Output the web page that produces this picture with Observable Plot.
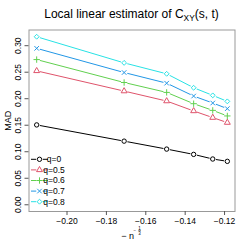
<!DOCTYPE html>
<html><head><meta charset="utf-8">
<script src="https://cdn.jsdelivr.net/npm/d3@7"></script>
<script src="https://cdn.jsdelivr.net/npm/@observablehq/plot@0.6"></script>
<style>body{margin:0;background:#fff} svg{font-family:"Liberation Sans",Arial,sans-serif}</style>
</head><body><div id="chart"></div>
<script>
const xValues = [-0.2154, -0.1710, -0.1494, -0.1357, -0.1260, -0.1186];
const seriesNames = ["q=0", "q=0.5", "q=0.6", "q=0.7", "q=0.8"];
const q0  = [0.1506, 0.1200, 0.1050, 0.0950, 0.0863, 0.0819];
const q05 = [0.2525, 0.2144, 0.1956, 0.1769, 0.1644, 0.1550];
const q06 = [0.2738, 0.2306, 0.2119, 0.1906, 0.1780, 0.1675];
const q07 = [0.2950, 0.2494, 0.2293, 0.2050, 0.1919, 0.1813];
const q08 = [0.3169, 0.2676, 0.2470, 0.2207, 0.2063, 0.1950];
const xTicks = [-0.20, -0.18, -0.16, -0.14, -0.12];
const yTicks = [0, 0.05, 0.10, 0.15, 0.20, 0.25, 0.30];
const colors = ["#000000", "#DF536B", "#61D04F", "#2297E6", "#28E2E5"];
const symbols = ["circle", "triangle", "plus", "times", "diamond2"];

const seriesValues = [q0, q05, q06, q07, q08];
const data = [];
seriesNames.forEach((s, i) => xValues.forEach((x, j) => data.push({s, x, y: seriesValues[i][j]})));

const R = 2.2;
const plot = Plot.plot({
  width: 249, height: 249,
  marginLeft: 28.5, marginRight: 14.5, marginTop: 29.5, marginBottom: 38,
  style: {fontFamily: '"Liberation Sans", Arial, sans-serif', fontSize: "8.5px", background: "#fff"},
  x: {domain: [-0.2193, -0.1147]},
  y: {domain: [-0.0127, 0.3296]},
  color: {domain: seriesNames, range: colors},
  symbol: {domain: seriesNames, range: symbols},
  marks: [
    Plot.line(data, {x: "x", y: "y", z: "s", stroke: "s", strokeWidth: 1}),
    Plot.dot(data, {x: "x", y: "y", r: 3.3, fill: "white", stroke: null}),
    Plot.dot(data, {x: "x", y: "y", symbol: "s", stroke: "s", fill: "none", r: R, strokeWidth: 1}),
    Plot.frame({stroke: "#999", strokeWidth: 1}),
    Plot.axisX({ticks: xTicks, tickSize: 4, tickPadding: 2, tickFormat: d3.format(".2f"), label: null, stroke: "#555", fill: "#000", fontSize: 8.5}),
    Plot.axisY({ticks: yTicks, tickSize: 4, tickFormat: () => "", label: null, stroke: "#555"}),
    Plot.text(yTicks, {y: d => d, frameAnchor: "left", dx: -11, rotate: -90, text: d3.format(".2f"), textAnchor: "middle", lineAnchor: "middle", fontSize: 8.5, fill: "#000"}),
    Plot.text(["MAD"], {frameAnchor: "left", dx: -20.5, rotate: -90, textAnchor: "middle", lineAnchor: "middle", fontSize: 9, fill: "#000"})
  ]
});
document.getElementById("chart").appendChild(plot);

const svg = d3.select(plot);
// Title
const t = svg.append("text").attr("x", 131.5).attr("y", 18).attr("text-anchor", "middle")
  .attr("font-size", 12).attr("fill", "#000");
t.append("tspan").text("Local linear estimator of C");
t.append("tspan").attr("font-size", 8.4).attr("dy", 2.5).text("XY");
t.append("tspan").attr("dy", -2.5).text("(s, t)");

// X label: −n^(−1/3)
const xl = svg.append("g").attr("font-size", 9).attr("fill", "#000");
xl.append("text").attr("x", 134).attr("y", 239).attr("text-anchor", "end").text("\u2212 n");
xl.append("text").attr("x", 134.8).attr("y", 232).attr("font-size", 4.5).text("\u2212");
xl.append("text").attr("x", 139.6).attr("y", 229.5).attr("font-size", 4.5).attr("text-anchor", "middle").text("1");
xl.append("line").attr("x1", 138.2).attr("x2", 141).attr("y1", 230.5).attr("y2", 230.5).attr("stroke", "#000").attr("stroke-width", 0.4);
xl.append("text").attr("x", 139.6).attr("y", 234.5).attr("font-size", 4.5).attr("text-anchor", "middle").text("3");

// Legend
const symMap = {circle: d3.symbolCircle, triangle: d3.symbolTriangle, plus: d3.symbolPlus, times: d3.symbolTimes, diamond2: d3.symbolDiamond2};
const lg = svg.append("g");
seriesNames.forEach((s, i) => {
  const y = 159.3 + i * 10.6;
  const g = lg.append("g");
  g.append("line").attr("x1", 31).attr("x2", 48).attr("y1", y).attr("y2", y).attr("stroke", colors[i]).attr("stroke-width", 1);
  g.append("circle").attr("cx", 39.5).attr("cy", y).attr("r", 3.3).attr("fill", "white");
  g.append("path").attr("transform", `translate(39.5,${y})`)
    .attr("d", d3.symbol(symMap[symbols[i]], R * R * Math.PI)())
    .attr("fill", "none").attr("stroke", colors[i]).attr("stroke-width", 1);
  g.append("text").attr("x", 54).attr("y", y).attr("dy", "0.35em").attr("font-size", 8.5).attr("fill", "#000").text(s);
});
</script></body></html>
